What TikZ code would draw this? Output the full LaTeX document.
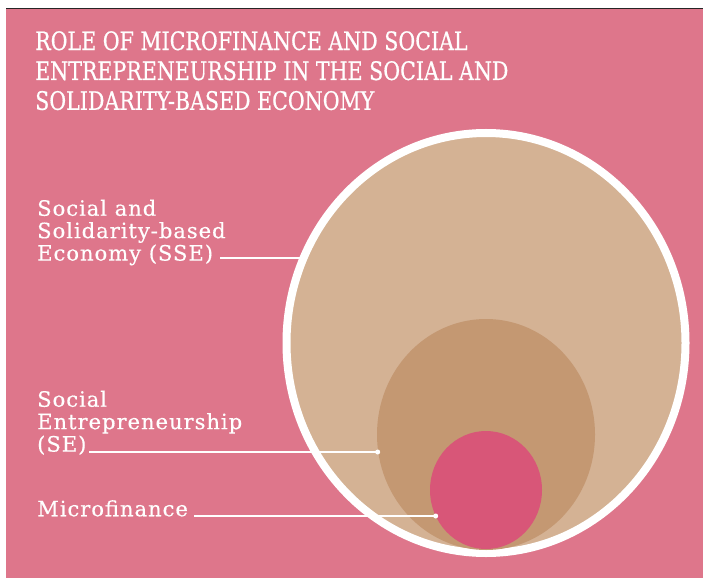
\documentclass[tikz,border=0pt]{standalone}
\usepackage{fontspec}
\setmainfont{DejaVu Serif}
\newfontfamily\titlefont[FakeStretch=0.81,FakeBold=0.6]{DejaVu Serif}
\newfontfamily\labelfont[LetterSpace=4.5,FakeBold=0.4]{DejaVu Serif}
\usepackage{xcolor}
\usetikzlibrary{positioning,calc}
\definecolor{bgpink}{HTML}{DE768B}
\definecolor{ssetan}{HTML}{D4B294}
\definecolor{setan}{HTML}{C49872}
\definecolor{mfpink}{HTML}{D85678}

\begin{document}
\begin{tikzpicture}[
    x=1bp, y=-1bp,
    ttl/.style={anchor=north west, inner sep=0pt, align=left, text=white,
        font=\titlefont\fontsize{25.5}{30}\selectfont},
    lbl/.style={anchor=north west, inner sep=0pt, align=left, text=white,
        font=\labelfont\fontsize{21.2}{22.5}\selectfont},
    leader/.style={draw=white, line width=1.2bp},
    tip/.style={fill=white}
]
\useasboundingbox (0,0) rectangle (703,579);
\fill[bgpink] (6,9) rectangle (703,578);
\draw[black!85, line width=1bp] (6,8.5) -- (703,8.5);

\node[ttl] (T) at (35,31) {ROLE OF MICROFINANCE AND SOCIAL\\
    ENTREPRENEURSHIP IN THE SOCIAL AND\\ SOLIDARITY-BASED ECONOMY};

\fill[ssetan, draw=white, line width=8bp] (486,343) ellipse [x radius=199.5bp, y radius=210bp];
\fill[setan] (486,434.5) ellipse [x radius=109bp, y radius=115.5bp];
\fill[mfpink] (486,490) ellipse [x radius=56bp, y radius=59bp];

\node[lbl] (SSE) at (37,199.5) {Social and\\ Solidarity-based\\ Economy (SSE)};
\node[lbl] (SE) at (37,390.5) {Social\\ Entrepreneurship\\ (SE)};
\node[lbl] (MF) at (37,500) {Microfinance};

\coordinate (SSEa) at (220,258);
\coordinate (SSEb) at (304,258);
\coordinate (SEa) at (89,452);
\coordinate (SEb) at (377.7,452);
\coordinate (MFa) at (194,516);
\coordinate (MFb) at (435.7,516);

\draw[leader] (SSEa) -- (SSEb);
\draw[leader] (SEa) -- (SEb);
\draw[leader] (MFa) -- (MFb);
\fill[tip] (SEb) circle (2.5bp);
\fill[tip] (MFb) circle (2.5bp);
\end{tikzpicture}
\end{document}
